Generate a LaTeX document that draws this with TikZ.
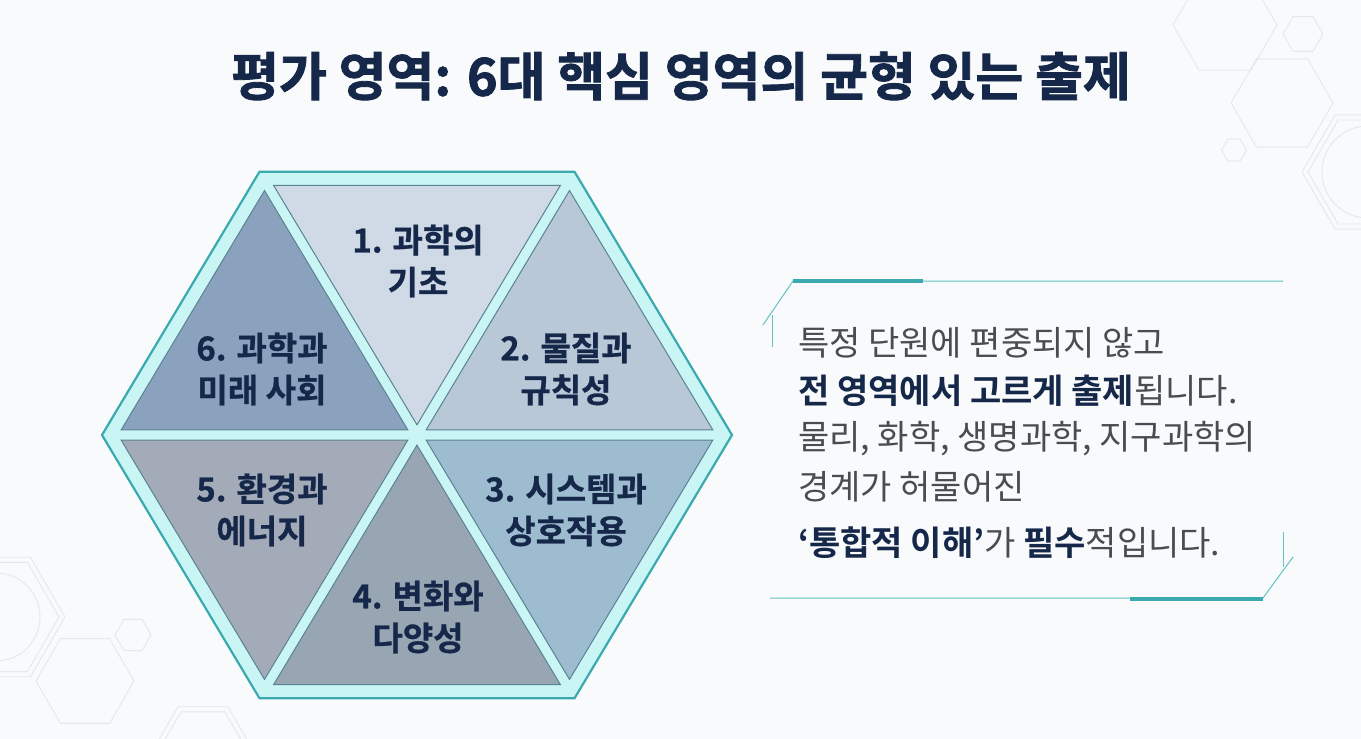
\documentclass[tikz,border=0pt]{standalone}
\usepackage{fontspec}
\setmainfont{Noto Sans CJK KR}[BoldFont={Noto Sans CJK KR Bold}]
\newfontfamily\heavyfont{Noto Sans CJK KR Bold}[FakeBold=1.6]
\newfontfamily\labelfont{Noto Sans CJK KR Bold}[FakeBold=0.8]
\usetikzlibrary{calc}

\definecolor{navy}{HTML}{16284A}
\definecolor{inkgray}{HTML}{4A4C50}
\definecolor{teal}{HTML}{3AAAAE}
\definecolor{tealthin}{HTML}{62C3C5}
\definecolor{cyanband}{HTML}{C9F5F5}
\definecolor{triedge}{HTML}{5A8391}
\definecolor{triA}{HTML}{CFDAE6}
\definecolor{triB}{HTML}{B8C8D7}
\definecolor{triC}{HTML}{9EBCCF}
\definecolor{triD}{HTML}{98A6B4}
\definecolor{triE}{HTML}{A3ABB8}
\definecolor{triF}{HTML}{8AA2BE}
\definecolor{paper}{HTML}{F8FAFB}
\definecolor{ghost}{HTML}{E4E8EA}

% faint background hexagon
\newcommand{\hexring}[2]{\draw[bghex] (#1) +(0:#2) -- +(60:#2) -- +(120:#2) -- +(180:#2) -- +(240:#2) -- +(300:#2) -- cycle;}

\begin{document}
\begin{tikzpicture}[x=1pt,y=1pt,yscale=-1,
    bghex/.style={draw=ghost,line width=0.9},
    tri/.style={draw=triedge,line width=1},
    lbl/.style={text=navy,align=center,font=\labelfont\fontsize{33}{42}\selectfont,inner sep=0},
    body/.style={anchor=west,text=inkgray,font=\fontsize{34}{40}\selectfont,inner sep=0},
    framethin/.style={draw=tealthin,line width=1},
    framethick/.style={draw=teal,line width=4}]
\useasboundingbox (0,0) rectangle (1361,739);
\fill[paper] (0,0) rectangle (1361,739);

% background decoration
\hexring{1225,25}{52}
\hexring{1303,34}{20}
\hexring{1282,103}{51}
\hexring{1234,150}{12.5}
\hexring{1368,172}{66}
\hexring{1368,172}{60}
\draw[bghex] (1368,172) circle (46);
\hexring{-4,617}{69}
\hexring{-4,617}{63}
\draw[bghex] (-4,617) circle (44);
\hexring{133,635}{18}
\hexring{85,681}{49}
\hexring{203,750}{50}
\hexring{203,750}{44}

% title
\node[text=navy,font=\heavyfont\fontsize{52}{56}\selectfont,inner sep=0] (title) at (681,76) {평가 영역: 6대 핵심 영역의 균형 있는 출제};

% hexagon of six areas
\coordinate (c) at (417,435);
\filldraw[fill=cyanband,draw=teal,line width=2.2] ($(c)+(0:315 and 304)$) -- ($(c)+(60:315 and 304)$) -- ($(c)+(120:315 and 304)$) -- ($(c)+(180:315 and 304)$) -- ($(c)+(240:315 and 304)$) -- ($(c)+(300:315 and 304)$) -- cycle;
\foreach \s/\e/\col in {240/300/triA,300/360/triB,0/60/triC,60/120/triD,120/180/triE,180/240/triF}{
  \coordinate (a) at ($(c)+(\s:305 and 294)$);
  \coordinate (b) at ($(c)+(\e:305 and 294)$);
  \coordinate (g) at ($0.3333*(c)+0.3333*(a)+0.3333*(b)$);
  \filldraw[tri,fill=\col] ($(g)!0.94!(c)$) -- ($(g)!0.94!(a)$) -- ($(g)!0.94!(b)$) -- cycle;
}
\node[lbl] (lbl1) at (418,261) {1. 과학의\\기초};
\node[lbl] (lbl2) at (566,369) {2. 물질과\\규칙성};
\node[lbl] (lbl3) at (566,510) {3. 시스템과\\상호작용};
\node[lbl] (lbl4) at (418,617) {4. 변화와\\다양성};
\node[lbl] (lbl5) at (262,510) {5. 환경과\\에너지};
\node[lbl] (lbl6) at (262,369) {6. 과학과\\미래 사회};

% text panel
\draw[framethin] (763,325) -- (793,281) -- (1283,281);
\draw[framethick] (793,281) -- (923,281);
\draw[framethin] (772,315) -- (772,347);
\draw[framethin] (770,598) -- (1263,598) -- (1293,557);
\draw[framethick] (1130,599) -- (1263,599);
\draw[framethin] (1283,532) -- (1283,567);

\node[body] (line1) at (798,343) {특정 단원에 편중되지 않고};
\node[body] (line2) at (798,391) {\textbf{\color{navy}전 영역에서 고르게 출제}됩니다.};
\node[body] (line3) at (798,439) {물리, 화학, 생명과학, 지구과학의};
\node[body] (line4) at (798,487) {경계가 허물어진};
\node[body] (line5) at (798,543) {\textbf{\color{navy}‘통합적 이해’}가 \textbf{\color{navy}필수}적입니다.};
\end{tikzpicture}
\end{document}
